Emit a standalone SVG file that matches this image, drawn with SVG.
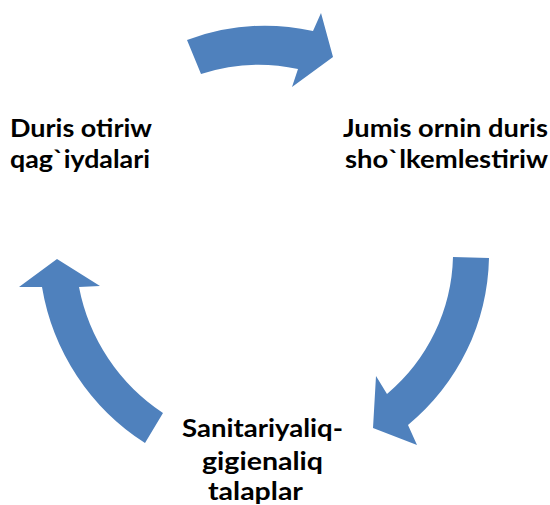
<svg xmlns="http://www.w3.org/2000/svg" width="550" height="505" viewBox="0 0 550 505">
<style>
.arrow{fill:#4F81BD;stroke:none}
.lbl{font-family:"Lato","Liberation Sans",sans-serif;font-weight:bold;font-size:24px;fill:#000}
</style>
<rect width="550" height="505" fill="#fff"/>
<g id="connectors">
<path id="arrow-top" class="arrow" d="M187,40 A224,224 0 0 1 313,31 L321,13 L333,57 L292,87 L298,69 A186,186 0 0 0 201,74 Z"/>
<path id="arrow-right" class="arrow" d="M453,257 L489,258 A222,222 0 0 1 408,425 L417,445 L373,428 L376,376 L387,394 A185,185 0 0 0 453,257 Z"/>
<path id="arrow-left" class="arrow" d="M145,443 A230,230 0 0 1 42,287 L19,287 L57,259 L100,286 L79,287 A195,195 0 0 0 163,413 Z"/>
</g>
<g id="node-duris">
<text class="lbl" x="10" y="137" textLength="142" lengthAdjust="spacingAndGlyphs">Duris otiriw</text>
<text class="lbl" x="10" y="168" textLength="140" lengthAdjust="spacingAndGlyphs">qag`iydalari</text>
</g>
<g id="node-jumis">
<text class="lbl" x="343" y="137" textLength="205" lengthAdjust="spacingAndGlyphs">Jumis ornin duris</text>
<text class="lbl" x="345" y="168" textLength="203" lengthAdjust="spacingAndGlyphs">sho`lkemlestiriw</text>
</g>
<g id="node-sanitariya">
<text class="lbl" x="182" y="437" textLength="161" lengthAdjust="spacingAndGlyphs">Sanitariyaliq-</text>
<text class="lbl" x="202" y="470" textLength="121" lengthAdjust="spacingAndGlyphs">gigienaliq</text>
<text class="lbl" x="208" y="500" textLength="95" lengthAdjust="spacingAndGlyphs">talaplar</text>
</g>
</svg>
